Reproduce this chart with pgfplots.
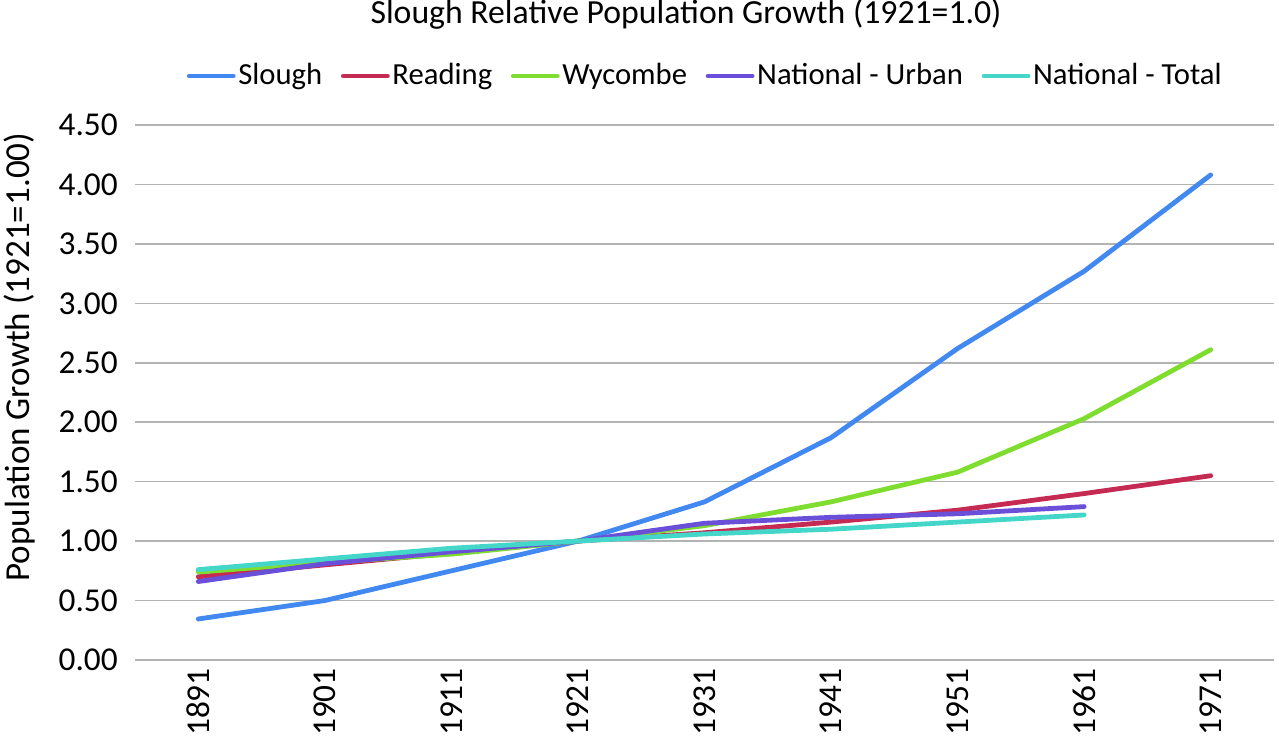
\documentclass[border=0pt]{standalone}
\usepackage{fontspec}
\setmainfont{Carlito}
\usepackage{pgfplots}
\pgfplotsset{compat=1.18}
\definecolor{cSlough}{HTML}{4189F0}
\definecolor{cReading}{HTML}{C52A52}
\definecolor{cWycombe}{HTML}{7FDD2F}
\definecolor{cUrban}{HTML}{6A50D8}
\definecolor{cTotal}{HTML}{45D6CA}
\definecolor{cGrid}{HTML}{B3B3B3}
\begin{document}
\fontsize{20}{24}\selectfont
\begin{tikzpicture}
\useasboundingbox (0,0) rectangle (959.25pt,556.5pt);
\begin{axis}[
  at={(101.25pt,61.5pt)}, anchor=south west,
  scale only axis, width=854.25pt, height=401.25pt,
  xmin=-0.5, xmax=8.5, ymin=0, ymax=4.5,
  xtick={0,1,2,3,4,5,6,7,8},
  xticklabels={1891,1901,1911,1921,1931,1941,1951,1961,1971},
  ytick={0,0.5,1,1.5,2,2.5,3,3.5,4,4.5},
  yticklabel style={font=\fontsize{25}{30}\selectfont, inner sep=0pt,
    /pgf/number format/fixed, /pgf/number format/fixed zerofill, /pgf/number format/precision=2},
  /pgf/number format/assume math mode=true,
  ymajorgrids, major grid style={cGrid, line width=1.1pt},
  axis line style={draw=none},
  major tick length=0pt,
  yticklabel shift=12.75pt,
  xticklabel style={font=\fontsize{25}{30}\selectfont, inner sep=0pt, rotate=90, anchor=east},
  xticklabel shift=6pt,
  ylabel={Population Growth (1921=1.00)},
  ylabel style={font=\fontsize{26.3}{30}\selectfont, at={(axis description cs:-0.101,0.566)}, anchor=center},
  title={Slough Relative Population Growth (1921=1.0)},
  title style={font=\fontsize{25.3}{30}\selectfont, at={(axis description cs:0.4838,1.1925)}, anchor=center},
  legend columns=5,
  legend style={draw=none, fill=none, font=\fontsize{23}{28}\selectfont,
    at={(axis description cs:0.501,1.0916)}, anchor=center,
    /tikz/every even column/.append style={column sep=12pt}},
  legend image code/.code={\draw[#1, line cap=round] (0pt,0pt) -- (33pt,0pt);},
  every axis plot/.append style={line width=3.6pt, line join=round, line cap=round, mark=none},
]
\addplot[cSlough] coordinates {(0,0.345)(1,0.50)(2,0.75)(3,1.00)(4,1.33)(5,1.87)(6,2.62)(7,3.27)(8,4.08)};
\addlegendentry{Slough}
\addplot[cReading] coordinates {(0,0.70)(1,0.80)(2,0.90)(3,1.00)(4,1.07)(5,1.16)(6,1.26)(7,1.40)(8,1.55)};
\addlegendentry{Reading}
\addplot[cWycombe] coordinates {(0,0.74)(1,0.82)(2,0.89)(3,1.00)(4,1.13)(5,1.33)(6,1.58)(7,2.03)(8,2.61)};
\addlegendentry{Wycombe}
\addplot[cUrban] coordinates {(0,0.66)(1,0.81)(2,0.91)(3,1.00)(4,1.15)(5,1.20)(6,1.23)(7,1.29)};
\addlegendentry{National - Urban}
\addplot[cTotal] coordinates {(0,0.76)(1,0.85)(2,0.94)(3,1.00)(4,1.06)(5,1.10)(6,1.16)(7,1.22)};
\addlegendentry{National - Total}
\end{axis}
\end{tikzpicture}
\end{document}
